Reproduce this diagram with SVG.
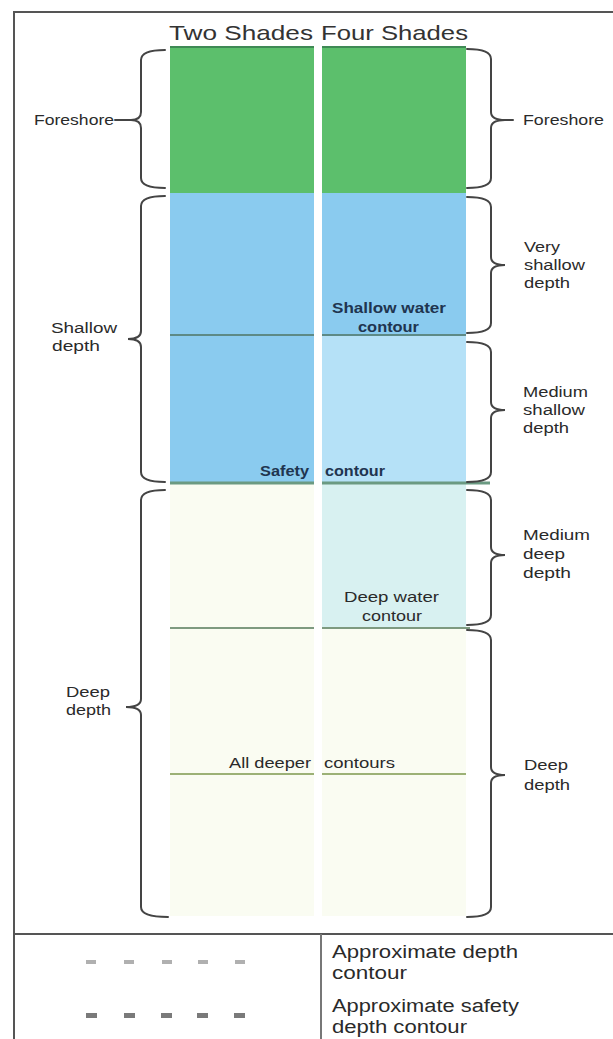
<svg xmlns="http://www.w3.org/2000/svg" width="613" height="1039" viewBox="0 0 613 1039">
<style>
.t{font-family:"Liberation Sans",Arial,sans-serif;fill:#2a2a2a}
.lbl{font-size:14px}
.in{font-size:14px;fill:#1f3550;font-weight:bold}
.title{font-size:21px;fill:#333}
.leg{font-size:18px;fill:#2a2a2a}
.brace{fill:none;stroke:#444;stroke-width:2;stroke-linecap:round}
.frame{fill:none;stroke:#555;stroke-width:2}
</style>
<rect width="613" height="1039" fill="#ffffff"/>
<g id="frame">
<line class="frame" x1="14" y1="12" x2="613" y2="12" stroke="#888"/>
<line class="frame" x1="14" y1="11" x2="14" y2="1039"/>
<line class="frame" x1="14" y1="934" x2="613" y2="934"/>
<line x1="321" y1="934" x2="321" y2="1039" stroke="#777" stroke-width="2"/>
</g>
<g id="titles">
<text class="t title" x="169" y="40" textLength="144" lengthAdjust="spacingAndGlyphs">Two Shades</text>
<text class="t title" x="321" y="40" textLength="147" lengthAdjust="spacingAndGlyphs">Four Shades</text>
</g>
<g id="two-shades">
<rect x="170" y="47" width="144" height="146" fill="#5cbf6c"/>
<rect x="170" y="193" width="144" height="290" fill="#8acbef"/>
<rect x="170" y="484" width="144" height="432" fill="#fafcf2"/>
</g>
<g id="four-shades">
<rect x="322" y="47" width="144" height="146" fill="#5cbf6c"/>
<rect x="322" y="193" width="144" height="142" fill="#8acbef"/>
<rect x="322" y="336" width="144" height="147" fill="#b5e1f7"/>
<rect x="322" y="484" width="144" height="144" fill="#d8f1f1"/>
<rect x="322" y="629" width="144" height="287" fill="#fafcf2"/>
</g>
<g id="contours">
<line x1="170" y1="47" x2="314" y2="47" stroke="#3f8a55" stroke-width="2"/>
<line x1="322" y1="47" x2="466" y2="47" stroke="#3f8a55" stroke-width="2"/>
<line x1="170" y1="335" x2="314" y2="335" stroke="#5d8a86" stroke-width="2"/>
<line x1="322" y1="335" x2="466" y2="335" stroke="#5d8a86" stroke-width="2"/>
<line x1="170" y1="483" x2="314" y2="483" stroke="#6b9a82" stroke-width="3"/>
<line x1="322" y1="483" x2="490" y2="483" stroke="#6b9a82" stroke-width="3"/>
<line x1="170" y1="628" x2="314" y2="628" stroke="#7e9a80" stroke-width="2"/>
<line x1="322" y1="628" x2="470" y2="628" stroke="#7e9a80" stroke-width="2"/>
<line x1="170" y1="774" x2="314" y2="774" stroke="#9cb176" stroke-width="2"/>
<line x1="322" y1="774" x2="466" y2="774" stroke="#9cb176" stroke-width="2"/>
</g>
<g id="contour-labels">
<text class="t in" x="332" y="313" textLength="114" lengthAdjust="spacingAndGlyphs">Shallow water</text>
<text class="t in" x="358" y="332" textLength="61" lengthAdjust="spacingAndGlyphs">contour</text>
<text class="t in" x="260" y="476" textLength="49" lengthAdjust="spacingAndGlyphs">Safety</text>
<text class="t in" x="325" y="476" textLength="60" lengthAdjust="spacingAndGlyphs">contour</text>
<text class="t lbl" x="344" y="602" textLength="95" lengthAdjust="spacingAndGlyphs">Deep water</text>
<text class="t lbl" x="362" y="621" textLength="60" lengthAdjust="spacingAndGlyphs">contour</text>
<text class="t lbl" x="229" y="768" textLength="82" lengthAdjust="spacingAndGlyphs">All deeper</text>
<text class="t lbl" x="324" y="768" textLength="71" lengthAdjust="spacingAndGlyphs">contours</text>
</g>
<g id="connectors">
<path class="brace" d="M165,50 Q141,50 141,60 V112 Q141,120 131,120 Q141,120 141,128 V178 Q141,188 165,188"/>
<line class="brace" x1="115" y1="120" x2="131" y2="120"/>
<path class="brace" d="M165,196 Q141,196 141,206 V331 Q141,339 128,339 Q141,339 141,347 V472 Q141,482 165,482"/>
<path class="brace" d="M165,490 Q141,490 141,500 V699 Q141,707 126,707 Q141,707 141,715 V907 Q141,917 168,917"/>
<path class="brace" d="M467,49 Q491,49 491,59 V112 Q491,120 505,120 Q491,120 491,128 V178 Q491,188 467,188"/>
<line class="brace" x1="505" y1="120" x2="513" y2="120"/>
<path class="brace" d="M467,197 Q491,197 491,207 V257 Q491,265 505,265 Q491,265 491,273 V323 Q491,333 467,333"/>
<path class="brace" d="M467,342 Q491,342 491,352 V402 Q491,410 505,410 Q491,410 491,418 V472 Q491,482 467,482"/>
<path class="brace" d="M467,490 Q491,490 491,500 V547 Q491,555 505,555 Q491,555 491,563 V615 Q491,625 467,625"/>
<path class="brace" d="M467,630 Q491,630 491,640 V767 Q491,775 505,775 Q491,775 491,783 V907 Q491,917 467,917"/>
</g>
<g id="left-labels">
<text class="t lbl" x="34" y="125" textLength="80" lengthAdjust="spacingAndGlyphs">Foreshore</text>
<text class="t lbl" x="51" y="333" textLength="66" lengthAdjust="spacingAndGlyphs">Shallow</text>
<text class="t lbl" x="52" y="351" textLength="48" lengthAdjust="spacingAndGlyphs">depth</text>
<text class="t lbl" x="66" y="697" textLength="44" lengthAdjust="spacingAndGlyphs">Deep</text>
<text class="t lbl" x="66" y="715" textLength="45" lengthAdjust="spacingAndGlyphs">depth</text>
</g>
<g id="right-labels">
<text class="t lbl" x="523" y="125" textLength="81" lengthAdjust="spacingAndGlyphs">Foreshore</text>
<text class="t lbl" x="524" y="252" textLength="36" lengthAdjust="spacingAndGlyphs">Very</text>
<text class="t lbl" x="524" y="270" textLength="61" lengthAdjust="spacingAndGlyphs">shallow</text>
<text class="t lbl" x="524" y="288" textLength="46" lengthAdjust="spacingAndGlyphs">depth</text>
<text class="t lbl" x="523" y="397" textLength="65" lengthAdjust="spacingAndGlyphs">Medium</text>
<text class="t lbl" x="523" y="415" textLength="62" lengthAdjust="spacingAndGlyphs">shallow</text>
<text class="t lbl" x="523" y="433" textLength="46" lengthAdjust="spacingAndGlyphs">depth</text>
<text class="t lbl" x="523" y="540" textLength="67" lengthAdjust="spacingAndGlyphs">Medium</text>
<text class="t lbl" x="523" y="559" textLength="42" lengthAdjust="spacingAndGlyphs">deep</text>
<text class="t lbl" x="523" y="578" textLength="48" lengthAdjust="spacingAndGlyphs">depth</text>
<text class="t lbl" x="524" y="770" textLength="44" lengthAdjust="spacingAndGlyphs">Deep</text>
<text class="t lbl" x="524" y="790" textLength="46" lengthAdjust="spacingAndGlyphs">depth</text>
</g>
<g id="legend">
<g fill="#b0b0b0">
<rect x="86" y="960" width="10" height="4"/>
<rect x="124" y="960" width="10" height="4"/>
<rect x="162" y="960" width="10" height="4"/>
<rect x="198" y="960" width="10" height="4"/>
<rect x="235" y="960" width="10" height="4"/>
</g>
<g fill="#7a7a7a">
<rect x="86" y="1013" width="11" height="5"/>
<rect x="124" y="1013" width="11" height="5"/>
<rect x="161" y="1013" width="11" height="5"/>
<rect x="197" y="1013" width="11" height="5"/>
<rect x="234" y="1013" width="11" height="5"/>
</g>
<text class="t leg" x="332" y="958" textLength="186" lengthAdjust="spacingAndGlyphs">Approximate depth</text>
<text class="t leg" x="332" y="979" textLength="75" lengthAdjust="spacingAndGlyphs">contour</text>
<text class="t leg" x="332" y="1012" textLength="187" lengthAdjust="spacingAndGlyphs">Approximate safety</text>
<text class="t leg" x="332" y="1033" textLength="135" lengthAdjust="spacingAndGlyphs">depth contour</text>
</g>
</svg>
